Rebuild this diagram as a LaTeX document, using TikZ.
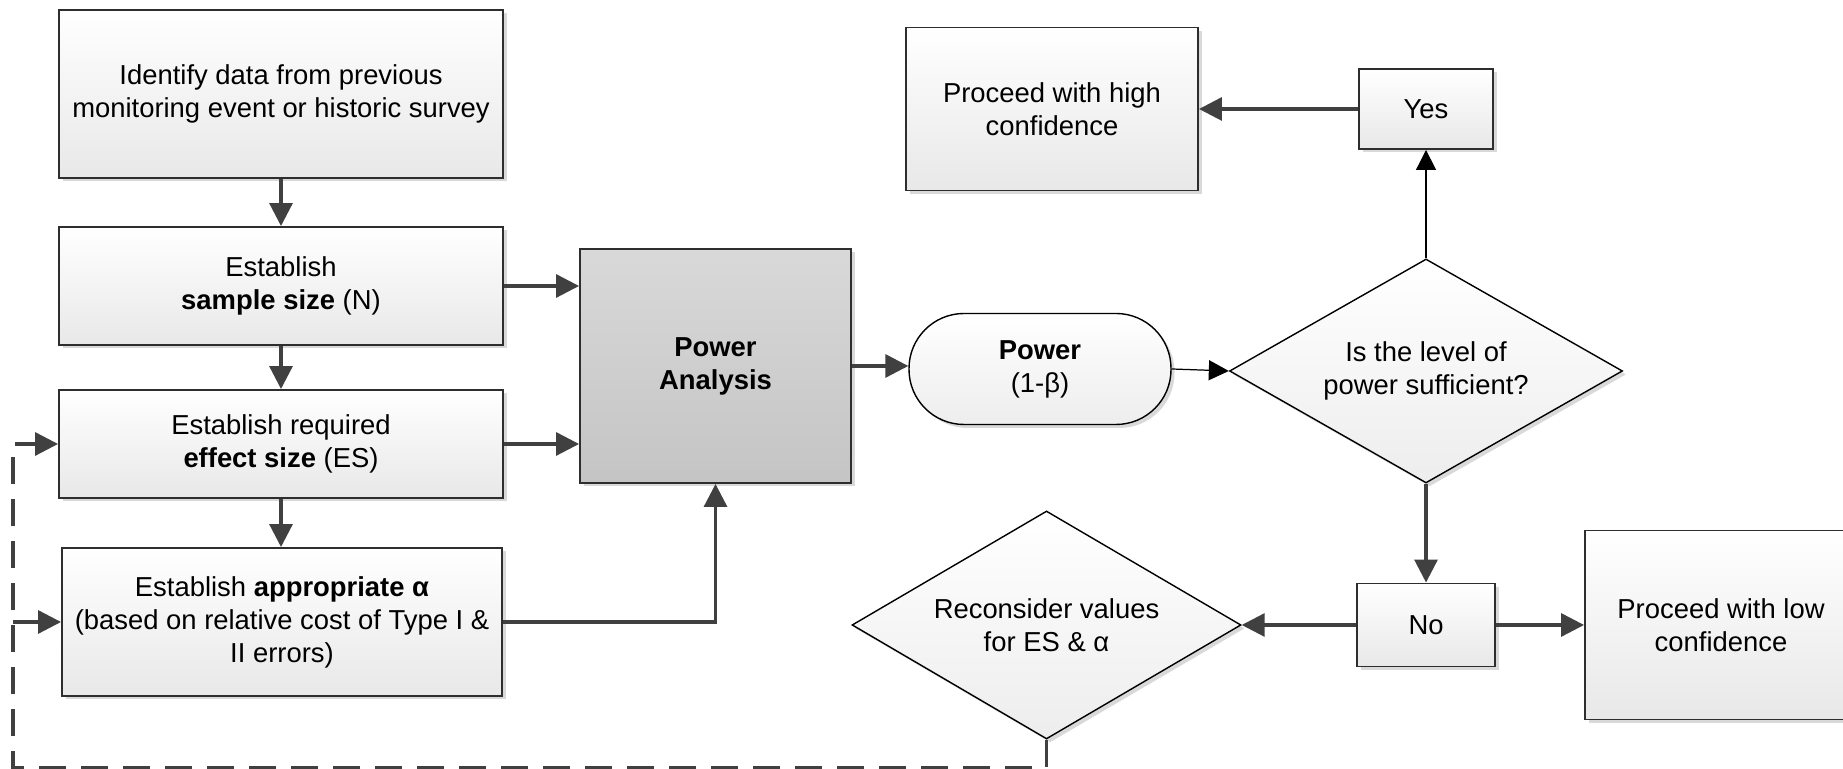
\documentclass[tikz,border=0pt]{standalone}
\usepackage{fontspec}
\setmainfont{Liberation Sans}
\usetikzlibrary{arrows.meta, shapes.geometric, shadows}
\definecolor{linegray}{HTML}{404040}
\definecolor{edgegray}{HTML}{2E2E2E}

\begin{document}
\begin{tikzpicture}[
        every node/.style={font=\fontsize{7.8}{9.4}\selectfont, align=center, inner sep=0pt},
        boxshadow/.style={drop shadow={shadow xshift=0.035cm, shadow yshift=-0.035cm, fill=black, opacity=0.15}},
        box/.style={draw=edgegray, line width=0.55pt, top color=white, bottom color=black!9, boxshadow},
        darkbox/.style={draw=edgegray, line width=0.55pt, top color=black!15, bottom color=black!23, boxshadow},
        decision/.style={diamond, draw=black, line width=0.4pt, top color=white, bottom color=black!7, boxshadow},
        terminal/.style={draw=black, line width=0.4pt, rounded corners=0.55cm, top color=white, bottom color=black!7, boxshadow},
        arr/.style={-{Triangle[length=0.23cm, width=0.23cm]}, draw=linegray, line width=0.9pt},
        thinarr/.style={-{Triangle[length=0.2cm, width=0.2cm]}, draw=black, line width=0.35pt},
        dasharr/.style={arr, dash pattern=on 0.27cm off 0.15cm}
    ]
    \clip (0, 0) rectangle (18.43, 7.69);
    \fill[white] (0, 0) rectangle (18.43, 7.69);

    \node[box, minimum width=4.44cm, minimum height=1.68cm] (ident) at (2.81, 6.75) {Identify data from previous\\monitoring event or historic survey};
    \node[box, minimum width=4.44cm, minimum height=1.18cm] (sample) at (2.81, 4.83) {Establish\\\textbf{sample size} (N)};
    \node[box, minimum width=4.44cm, minimum height=1.08cm] (effect) at (2.81, 3.25) {Establish required\\\textbf{effect size} (ES)};
    \node[box, minimum width=4.40cm, minimum height=1.48cm] (alpha) at (2.82, 1.47) {Establish \textbf{appropriate α}\\(based on relative cost of Type I \&\\II errors)};
    \node[darkbox, minimum width=2.71cm, minimum height=2.34cm] (pa) at (7.155, 4.03) {\textbf{Power}\\\textbf{Analysis}};
    \node[terminal, minimum width=2.62cm, minimum height=1.11cm] (pwr) at (10.40, 4.0) {\textbf{Power}\\(1-β)};
    \node[decision, aspect=1.75, minimum width=3.93cm, minimum height=2.24cm] (suff) at (14.26, 3.98) {Is the level of\\power sufficient?};
    \node[box, minimum width=1.34cm, minimum height=0.80cm] (yes) at (14.26, 6.60) {Yes};
    \node[box, minimum width=2.92cm, minimum height=1.63cm] (high) at (10.52, 6.60) {Proceed with high\\confidence};
    \node[box, minimum width=1.38cm, minimum height=0.83cm] (no) at (14.26, 1.44) {No};
    \node[box, minimum width=2.72cm, minimum height=1.89cm] (low) at (17.21, 1.44) {Proceed with low\\confidence};
    \node[decision, aspect=1.7, minimum width=3.89cm, minimum height=2.28cm] (recon) at (10.465, 1.44) {Reconsider values\\for ES \& α};
    \coordinate (loopcorner) at (0.13, 0.018);

    \draw[arr] (ident.south) -- (sample.north);
    \draw[arr] (sample.south) -- (effect.north);
    \draw[arr] (effect.south) -- (effect.south |- alpha.north);
    \draw[arr] (sample.east) -- (sample.east -| pa.west);
    \draw[arr] (effect.east) -- (effect.east -| pa.west);
    \draw[arr] (alpha.east) -| (pa.south);
    \draw[arr] (pa.east) -- (pa.east -| pwr.west);
    \draw[thinarr] (pwr.east) -- (suff.west);
    \draw[thinarr] (suff.north) -- (yes.south);
    \draw[arr] (yes.west) -- (high.east);
    \draw[arr] (suff.south) -- (no.north);
    \draw[arr] (no.west) -- (recon.east);
    \draw[arr] (no.east) -- (low.west);
    \draw[dasharr] (recon.south) |- (loopcorner) |- (effect.west);
    \draw[arr] (loopcorner |- alpha.west) -- (alpha.west);
\end{tikzpicture}
\end{document}
